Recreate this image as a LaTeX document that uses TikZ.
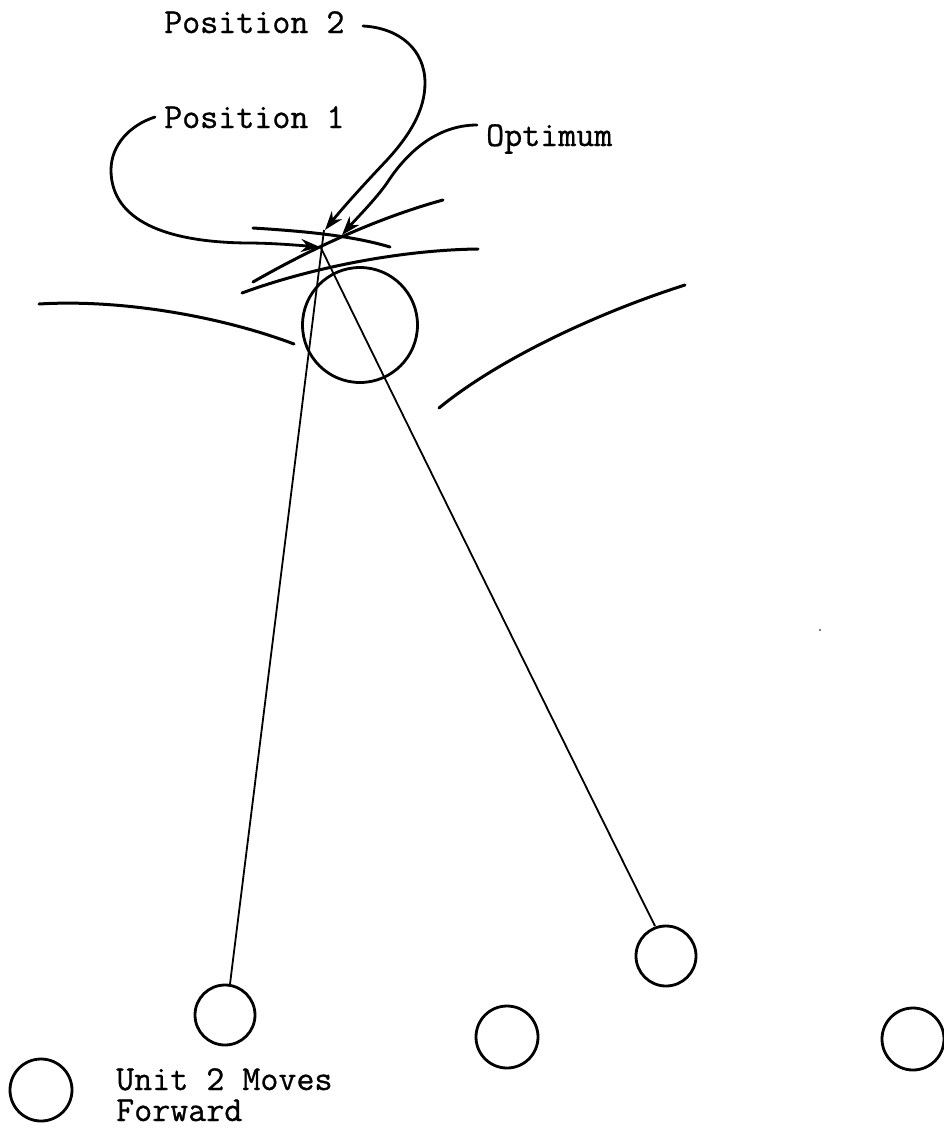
\documentclass[tikz,border=0pt]{standalone}
\usepackage{fontspec}
\newfontfamily\typ{Latin Modern Mono}[FakeBold=0.8]
\usetikzlibrary{arrows.meta}
\tikzset{
 unit/.style={draw=black,line width=2.8pt,circle,minimum size=#1,inner sep=0pt},
 lab/.style={font=\typ\fontsize{35pt}{31pt}\selectfont,text=black,inner sep=0pt,align=left},
 curve/.style={draw=black,line width=3pt,line cap=round},
 ray/.style={draw=black,line width=1.8pt},
 lead/.style={draw=black,line width=2.8pt,line cap=round,-{Stealth[length=19pt,width=13pt]}}
}
\begin{document}
\begin{tikzpicture}[x=1pt,y=-1pt]
\useasboundingbox (0,0) rectangle (944,1128);
\node[lab,anchor=base west] (p2) at (164,33) {Position 2};
\node[lab,anchor=base west] (p1) at (164,128) {Position 1};
\node[lab,anchor=base west] (opt) at (486,146) {Optimum};
\node[lab,anchor=north west] (u2) at (116,1068) {Unit 2 Moves\\Forward};
\node[unit=115pt] (big) at (360,325) {};
\node[unit=60pt] (a) at (225,1015) {};
\node[unit=60pt] (b) at (666,956) {};
\node[unit=62pt] (c) at (507,1037) {};
\node[unit=62pt] (d) at (913,1039) {};
\node[unit=62pt] (e) at (41,1090) {};
\coordinate (tip) at (321,248);
\coordinate (raytop) at (324,230);
\coordinate (t1) at (320,247);
\coordinate (t2) at (325,230);
\coordinate (t3) at (342,235);
\coordinate (l1) at (155,117);
\coordinate (l2) at (363,26);
\coordinate (l3) at (477,125);
\coordinate (a0) at (230,984);
\coordinate (b0) at (655,926);
\draw[ray] (a0) -- (raytop);
\draw[ray] (b0) .. controls (570,755) and (410,430) .. (tip);
\draw[lead] (l2) .. controls (400,28) and (425,50) .. (425,83) .. controls (425,110) and (410,135) .. (387,160) .. controls (370,178) and (345,205) .. (t2);
\draw[lead] (l1) .. controls (130,125) and (111,145) .. (111,170) .. controls (111,215) and (155,242) .. (247,243) .. controls (270,243) and (295,245) .. (t1);
\draw[lead] (l3) .. controls (435,125) and (405,155) .. (387,183) .. controls (375,200) and (355,220) .. (t3);
\draw[curve] (253,228) .. controls (300,231) and (350,235) .. (390,247);
\draw[curve] (253,282) .. controls (300,255) and (370,220) .. (443,200);
\draw[curve] (242,293) .. controls (310,268) and (400,250) .. (478,249);
\draw[curve] (39,304) .. controls (120,299) and (220,316) .. (294,344);
\draw[curve] (439,408) .. controls (500,358) and (600,312) .. (685,285);
\fill[black!70] (820,630) circle (1.2pt);
\end{tikzpicture}
\end{document}
